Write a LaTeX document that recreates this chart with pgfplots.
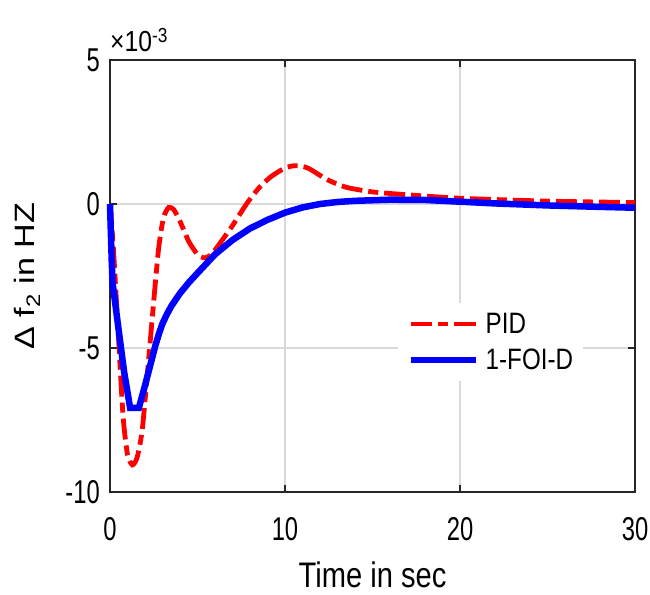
\documentclass[border=0pt]{standalone}
\usepackage{fontspec}
\setmainfont{Liberation Sans}[FakeStretch=0.82]
\newfontfamily\tickfont{Liberation Sans}[FakeStretch=0.72]
\newfontfamily\ylabfont{Liberation Sans}[FakeStretch=1.22]
\newfontfamily\expfont{Liberation Sans}[FakeStretch=0.85]
\usepackage{pgfplots}
\pgfplotsset{compat=1.18}
\begin{document}
\begin{tikzpicture}
\begin{axis}[
  scale only axis, width=525pt, height=432pt,
  xmin=0, xmax=30, ymin=-10, ymax=5, clip=false,
  xtick={0,10,20,30}, ytick={-10,-5,0,5},
  grid=major, major grid style={draw=black!15, line width=1.8pt},
  axis line style={draw=black!85, line width=2.4pt},
  tick style={draw=black!85, line width=2.4pt},
  tick align=inside, major tick length=7pt,
  /pgf/number format/assume math mode=true,
  tick label style={font=\tickfont\fontsize{33}{35}\selectfont, inner sep=0pt},
  yticklabel style={xshift=-10pt},
  xticklabel style={yshift=-25pt},
  xlabel={Time in sec}, ylabel={Δ f\textsubscript{2} in HZ},
  xlabel style={at={(rel axis cs:0.5,-0.2222)}, anchor=base, inner sep=0pt, font=\fontsize{35.5}{38}\selectfont},
  ylabel style={at={(rel axis cs:-0.1429,0.5)}, anchor=base, inner sep=0pt, font=\ylabfont\fontsize{28}{30}\selectfont},
  legend style={at={(0.5486,0.4375)}, anchor=north west, draw=none, fill=white,
    inner sep=10pt, row sep=14pt, column sep=6pt, nodes={inner sep=0pt},
    font=\fontsize{29.5}{31}\selectfont},
  legend cell align=left,
  legend image code/.code={\draw[mark repeat=2,mark phase=2] plot coordinates {(0pt,0pt) (32pt,0pt) (65pt,0pt)};},
]
\addplot[red, line width=4.8pt, dash pattern=on 21pt off 6pt on 10pt off 6pt, smooth, tension=0.4] coordinates {
(0,0) (0.2,-1.6) (0.5,-4.8) (0.75,-7.4) (1.0,-8.7) (1.28,-9.06) (1.55,-8.8) (1.85,-7.8) (2.25,-5.1) (2.75,-1.7) (3.05,-0.5) (3.35,-0.12) (3.65,-0.2) (4.0,-0.6) (4.5,-1.3) (5.0,-1.75) (5.4,-1.87) (5.8,-1.75) (6.3,-1.35) (7.0,-0.75) (7.8,0.0) (8.5,0.55) (9.2,0.95) (10,1.25) (10.6,1.33) (11.3,1.25) (12.4,0.85) (13.5,0.58) (15,0.42) (17,0.32) (20,0.2) (25,0.1) (30,0.05)
};
\addlegendentry{PID}
\addplot[blue, line width=6.5pt] coordinates {
(0,0) (0.05,-1.0) (0.1,-2.0) (0.15,-2.75) (0.5,-4.4) (0.8,-5.8) (1.15,-7.08) (1.65,-7.08) (2.0,-6.3) (2.3,-5.6) (2.6,-4.9) (2.8,-4.5) (3.0,-4.15) (3.25,-3.83) (3.5,-3.55) (4,-3.1) (4.5,-2.73) (5,-2.4) (6,-1.75) (7,-1.25) (8,-0.85) (9,-0.55) (10,-0.3) (11,-0.12) (12,0.0) (13,0.07) (14,0.11) (16,0.15) (18,0.14) (20,0.08) (22,0.02) (25,-0.05) (28,-0.1) (30,-0.13)
};
\addlegendentry{1-FOI-D}
\node[anchor=base west, inner sep=0pt, font=\expfont\fontsize{29}{31}\selectfont] at ([xshift=0pt,yshift=8pt]rel axis cs:0,1) {×10\textsuperscript{-3}};
\coordinate (sw) at (rel axis cs:0,0);
\coordinate (ne) at (rel axis cs:1,1);
\end{axis}
\path ([shift={(-110pt,-102pt)}]sw) rectangle ([shift={(15pt,60pt)}]ne);
\end{tikzpicture}
\end{document}
